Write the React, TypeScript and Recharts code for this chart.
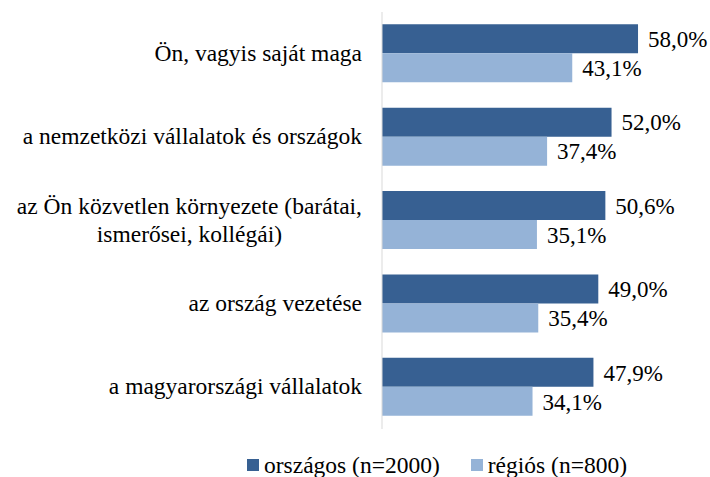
import React, { useEffect, useLayoutEffect, useRef, useState } from 'react'
import { BarChart, Bar, XAxis, YAxis, LabelList } from 'recharts'

const categories = [
  'Ön, vagyis saját maga',
  'a nemzetközi vállalatok és országok',
  'az Ön közvetlen környezete (barátai, ismerősei, kollégái)',
  'az ország vezetése',
  'a magyarországi vállalatok',
]

// how each category label is broken into lines
const tickLines = [
  ['Ön, vagyis saját maga'],
  ['a nemzetközi vállalatok és országok'],
  ['az Ön közvetlen környezete (barátai,', 'ismerősei, kollégái)'],
  ['az ország vezetése'],
  ['a magyarországi vállalatok'],
]

const orszagos = [58.0, 52.0, 50.6, 49.0, 47.9]
const regios = [43.1, 37.4, 35.1, 35.4, 34.1]

const seriesNames = ['országos (n=2000)', 'régiós (n=800)']
const DARK = '#376092'
const LIGHT = '#95b3d7'
const FONT = 'Liberation Serif'
const FS = 23.5
const VFS = 23

const data = categories.map((name, i) => ({ name, orszagos: orszagos[i], regios: regios[i] }))

function CategoryTick(props: any) {
  const { x, y, payload } = props
  const i = categories.indexOf(payload.value)
  const lines = tickLines[i] || [payload.value]
  const firstRef = useRef<SVGTSpanElement>(null)
  const [w1, setW1] = useState(348)
  useLayoutEffect(() => {
    if (firstRef.current && lines.length > 1) {
      const w = firstRef.current.getComputedTextLength()
      if (w && Math.abs(w - w1) > 0.5) setW1(w)
    }
  })
  const lh = 28
  const start = y - ((lines.length - 1) * lh) / 2
  return (
    <text fontSize={FS} fontFamily={FONT} fill="#000">
      {lines.map((l, k) => (
        <tspan
          key={k}
          ref={k === 0 ? firstRef : undefined}
          x={k === 0 ? x : x - w1 / 2}
          y={start + k * lh}
          dy={7}
          textAnchor={k === 0 ? 'end' : 'middle'}
        >
          {l}
        </tspan>
      ))}
    </text>
  )
}

const fmt = (v: any) => `${Number(v).toFixed(1).replace('.', ',')}%`

export default function App() {
  const [pass, setPass] = useState(0)
  useEffect(() => {
    document.body.style.margin = '0'
    // remount once the serif face is ready so text is laid out with it
    const fonts = (document as any).fonts
    if (fonts && fonts.load) fonts.load(`${FS}px "${FONT}"`).then(() => setPass(p => p + 1)).catch(() => {})
    const t1 = setTimeout(() => setPass(p => p + 1), 250)
    const t2 = setTimeout(() => setPass(p => p + 1), 700)
    return () => { clearTimeout(t1); clearTimeout(t2) }
  }, [])
  return (
    <div key={pass} style={{ position: 'relative', width: 710, height: 477, background: '#fff' }}>
      <BarChart
        width={710}
        height={477}
        data={data}
        layout="vertical"
        margin={{ top: 12, right: 19, bottom: 48, left: 0 }}
        barCategoryGap="14.7%"
        barGap={0}
      >
        <XAxis type="number" domain={[0, 70]} hide />
        <YAxis
          type="category"
          dataKey="name"
          width={382}
          axisLine={{ stroke: '#d9d9d9' }}
          tickLine={false}
          tickSize={0}
          tickMargin={20}
          tick={<CategoryTick />}
          interval={0}
        />
        <Bar dataKey="orszagos" fill={DARK} isAnimationActive={false}>
          <LabelList dataKey="orszagos" position="right" offset={10} formatter={fmt}
            fontSize={VFS} fontFamily={FONT} fill="#000" />
        </Bar>
        <Bar dataKey="regios" fill={LIGHT} isAnimationActive={false}>
          <LabelList dataKey="regios" position="right" offset={10} formatter={fmt}
            fontSize={VFS} fontFamily={FONT} fill="#000" />
        </Bar>
      </BarChart>
      <div style={{ position: 'absolute', top: 453, left: 247, display: 'flex', alignItems: 'center',
        fontFamily: `"${FONT}"`, fontSize: FS, color: '#000', lineHeight: '24px', whiteSpace: 'nowrap' }}>
        {seriesNames.map((n, i) => (
          <div key={n} style={{ display: 'flex', alignItems: 'center', marginRight: i === 0 ? 31 : 0 }}>
            <span style={{ width: 12, height: 12, background: i === 0 ? DARK : LIGHT, marginRight: 5, display: 'inline-block' }} />
            <span>{n}</span>
          </div>
        ))}
      </div>
    </div>
  )
}
